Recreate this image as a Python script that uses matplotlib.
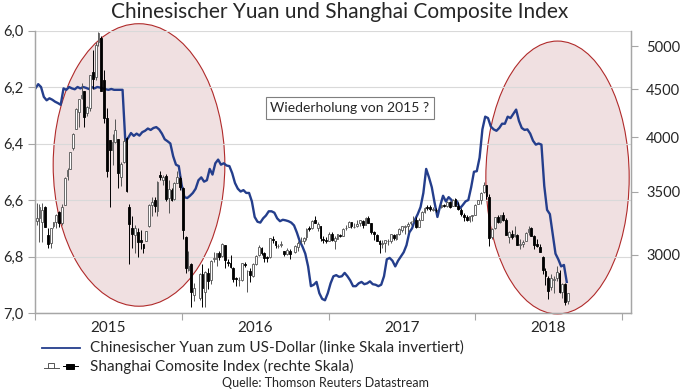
import matplotlib
matplotlib.use("Agg")
import matplotlib.pyplot as plt
import matplotlib.dates as mdates
from matplotlib.patches import Ellipse, Rectangle
from matplotlib.lines import Line2D
from matplotlib.ticker import FixedLocator, FuncFormatter, NullFormatter, NullLocator
import numpy as np
import pandas as pd

plt.rcParams["font.family"] = ["Lato", "DejaVu Sans"]

# USD/CNY, weekly closes (Fridays from 2015-01-02)
yuan = [
    6.205, 6.19, 6.20, 6.235, 6.247, 6.24, 6.245, 6.252, 6.257, 6.263,
    6.205, 6.21, 6.20, 6.205, 6.208, 6.20, 6.205, 6.20, 6.203, 6.207,
    6.20, 6.205, 6.20, 6.202, 6.205, 6.208, 6.21, 6.207, 6.21, 6.21,
    6.21, 6.21, 6.395, 6.38, 6.363, 6.373, 6.365, 6.372, 6.36, 6.355,
    6.347, 6.352, 6.345, 6.342, 6.35, 6.365, 6.385, 6.392, 6.40, 6.445,
    6.475, 6.48, 6.545, 6.59, 6.593, 6.585, 6.575, 6.56, 6.53, 6.52,
    6.535, 6.53, 6.49, 6.51, 6.47, 6.457, 6.475, 6.47, 6.478, 6.48,
    6.505, 6.54, 6.56, 6.57, 6.565, 6.575, 6.575, 6.605, 6.66, 6.677,
    6.68, 6.665, 6.655, 6.64, 6.64, 6.645, 6.665, 6.675, 6.67, 6.672,
    6.675, 6.68, 6.69, 6.715, 6.745, 6.765, 6.79, 6.835, 6.905, 6.90,
    6.89, 6.93, 6.95, 6.955, 6.93, 6.895, 6.87, 6.866, 6.872, 6.87,
    6.858, 6.87, 6.885, 6.905, 6.905, 6.895, 6.89, 6.898, 6.895, 6.888,
    6.898, 6.90, 6.905, 6.90, 6.87, 6.81, 6.805, 6.815, 6.835, 6.815,
    6.80, 6.785, 6.76, 6.715, 6.70, 6.67, 6.65, 6.625, 6.575, 6.49,
    6.52, 6.555, 6.61, 6.66, 6.62, 6.585, 6.605, 6.59, 6.60, 6.615,
    6.605, 6.63, 6.618, 6.605, 6.60, 6.555, 6.50, 6.498, 6.45, 6.35,
    6.305, 6.31, 6.34, 6.35, 6.355, 6.345, 6.33, 6.33, 6.305, 6.31,
    6.295, 6.28, 6.32, 6.345, 6.352, 6.35, 6.365, 6.39, 6.404, 6.40,
    6.404, 6.55, 6.635, 6.65, 6.72, 6.79, 6.81, 6.835, 6.83, 6.89,
]

# Shanghai Composite, weekly candles (Mondays from 2015-01-05), None = market closed
sse_open = [
    3258, 3285, 3250, 3370, 3148, 3084, 3215, 3247, 3332, 3240,
    3391, 3640, 3700, 3900, 4080, 4260, 4410, 4480, 4250, 4300,
    4700, 4640, 5050, 5100, 4600, 4200, 3975, 3880, 3960, 3985,
    3630, 3770, 3990, 3373, 3200, 3150, 3174, 3110, 3080, 3100,
    3220, 3390, 3430, 3340, 3650, 3600, 3640, 3450, 3520, 3440,
    3580, 3620,
    3536, 3130, 2890, 2930, 2720, None, 2700, 2860, 2740, 2870,
    2820, 2970, 2970, 3010, 2990, 3070, 2950, 2940, 2900, 2830,
    2820, 2820, 2935, 2880, 2880, 2850, 2930, 2995, 3050, 3010,
    2980, 2980, 3120, 3100, 3065, 3070, 3030, 3005, 3030, None,
    3020, 3060, 3100, 3100, 3130, 3200, 3200, 3270, 3200, 3220,
    3120, 3110,
    3105, 3160, 3100, 3120, 3150, 3140, 3200, 3210, 3250, 3210,
    3215, 3240, 3260, 3230, 3280, 3240, 3170, 3150, 3100, 3080,
    3090, 3100, 3100, 3150, 3120, 3160, 3190, 3210, 3220, 3240,
    3260, 3270, 3210, 3270, 3330, 3370, 3370, 3350, 3350, None,
    3370, 3390, 3380, 3410, 3380, 3440, 3380, 3350, 3310, 3290,
    3265, 3295,
    3310, 3400, 3430, 3500, 3560, 3460, 3130, 3200, 3290, 3250,
    3310, 3270, 3130, 3160, 3140, 3150, 3070, 3080, 3100, 3170,
    3200, 3140, 3080, 3060, 2980, 2880, 2830, 2770, 2820, 2830,
    2870, 2740, 2790, 2680,
]
sse_high = [
    3406, 3400, 3406, 3383, 3200, 3204, 3251, 3311, 3336, 3395,
    3632, 3715, 3864, 4040, 4300, 4398, 4572, 4488, 4322, 4658,
    4958, 5052, 5178, 5130, 4720, 4300, 3975, 4030, 4184, 3985,
    3770, 3994, 4006, 3400, 3300, 3223, 3200, 3190, 3080, 3183,
    3400, 3458, 3457, 3596, 3684, 3650, 3654, 3600, 3537, 3590,
    3684, 3635,
    3539, 3140, 3030, 2940, 2800, None, 2870, 2933, 2880, 2900,
    2960, 3018, 3010, 3030, 3090, 3075, 2970, 3000, 2910, 2840,
    2840, 2940, 2945, 2890, 2900, 2937, 3000, 3070, 3060, 3020,
    2990, 3125, 3140, 3100, 3080, 3100, 3030, 3050, 3040, None,
    3070, 3100, 3130, 3130, 3200, 3220, 3270, 3301, 3250, 3220,
    3140, 3130,
    3172, 3175, 3140, 3160, 3157, 3200, 3230, 3260, 3250, 3240,
    3270, 3270, 3270, 3290, 3295, 3245, 3180, 3160, 3110, 3110,
    3100, 3120, 3160, 3160, 3160, 3200, 3220, 3230, 3250, 3260,
    3300, 3290, 3280, 3340, 3370, 3390, 3390, 3370, 3360, None,
    3400, 3400, 3420, 3420, 3440, 3450, 3410, 3360, 3320, 3310,
    3300, 3310,
    3395, 3430, 3500, 3587, 3560, 3480, 3200, 3290, 3310, 3310,
    3330, 3280, 3180, 3190, 3220, 3160, 3120, 3110, 3170, 3220,
    3210, 3150, 3120, 3080, 2990, 2900, 2850, 2860, 2850, 2915,
    2890, 2800, 2800, 2730,
]
sse_low = [
    3230, 3095, 3096, 3210, 3049, 3049, 3200, 3202, 3207, 3230,
    3391, 3600, 3700, 3880, 4079, 4100, 4400, 4099, 4220, 4270,
    4500, 4600, 5000, 4480, 4140, 3630, 3373, 3740, 3950, 3537,
    3550, 3760, 3500, 2930, 3053, 3011, 2983, 3040, 3012, 3100,
    3210, 3300, 3330, 3300, 3600, 3560, 3420, 3327, 3420, 3430,
    3580, 3520,
    3115, 2867, 2880, 2638, 2680, None, 2682, 2638, 2638, 2760,
    2790, 2950, 2920, 2960, 2985, 2900, 2920, 2900, 2805, 2780,
    2780, 2810, 2910, 2736, 2807, 2840, 2925, 2990, 3000, 2946,
    2950, 2975, 3090, 3050, 3050, 3060, 2990, 3000, 2970, None,
    3010, 3030, 3090, 3080, 3110, 3180, 3195, 3240, 3180, 3100,
    3090, 3090,
    3100, 3100, 3044, 3120, 3130, 3140, 3190, 3210, 3200, 3200,
    3210, 3220, 3200, 3230, 3240, 3160, 3110, 3100, 3016, 3050,
    3023, 3070, 3090, 3110, 3110, 3150, 3170, 3160, 3170, 3230,
    3250, 3200, 3210, 3270, 3320, 3350, 3340, 3340, 3330, None,
    3360, 3370, 3370, 3360, 3380, 3380, 3350, 3300, 3260, 3260,
    3250, 3260,
    3310, 3400, 3400, 3490, 3440, 3062, 3120, 3195, 3240, 3240,
    3260, 3150, 3090, 3120, 3130, 3070, 3040, 3060, 3100, 3150,
    3140, 3040, 3060, 3020, 2860, 2782, 2691, 2750, 2730, 2810,
    2730, 2700, 2653, 2660,
]
sse_close = [
    3285, 3376, 3351, 3210, 3076, 3203, 3247, 3310, 3241, 3372,
    3617, 3691, 3863, 4034, 4287, 4393, 4441, 4205, 4308, 4657,
    4611, 5023, 5166, 4478, 4192, 3686, 3877, 3957, 4070, 3663,
    3744, 3965, 3507, 3232, 3160, 3200, 3097, 3092, 3053, 3183,
    3391, 3412, 3382, 3590, 3632, 3630, 3436, 3524, 3434, 3578,
    3627, 3539,
    3186, 2901, 2916, 2737, 2763, None, 2860, 2767, 2874, 2810,
    2955, 2979, 3009, 2985, 3078, 2959, 2938, 2913, 2828, 2826,
    2822, 2938, 2927, 2885, 2854, 2932, 2989, 3054, 3012, 2979,
    2976, 3125, 3108, 3070, 3067, 3078, 3002, 3033, 3004, None,
    3063, 3090, 3104, 3125, 3196, 3192, 3262, 3243, 3232, 3122,
    3110, 3104,
    3154, 3112, 3123, 3159, 3140, 3196, 3202, 3253, 3218, 3212,
    3237, 3269, 3223, 3286, 3246, 3173, 3155, 3103, 3083, 3090,
    3107, 3105, 3158, 3123, 3157, 3192, 3217, 3222, 3237, 3253,
    3262, 3208, 3268, 3331, 3367, 3365, 3353, 3352, 3349, None,
    3390, 3378, 3416, 3372, 3432, 3382, 3353, 3317, 3289, 3266,
    3297, 3307,
    3391, 3428, 3488, 3558, 3462, 3129, 3199, 3289, 3254, 3307,
    3269, 3152, 3169, 3131, 3159, 3071, 3082, 3091, 3163, 3193,
    3141, 3075, 3067, 3022, 2890, 2847, 2747, 2831, 2829, 2873,
    2740, 2795, 2669, 2730,
]

left_ticks = [6.0, 6.2, 6.4, 6.6, 6.8, 7.0]
right_ticks = [3000, 3500, 4000, 4500, 5000]
years = [2015, 2016, 2017, 2018]

yuan_dates = pd.date_range("2015-01-02", periods=len(yuan), freq="W-FRI")
sse_dates = pd.date_range("2015-01-05", periods=len(sse_close), freq="W-MON")
o = np.array(sse_open, dtype=float)
h = np.array(sse_high, dtype=float)
l = np.array(sse_low, dtype=float)
c = np.array(sse_close, dtype=float)

W, H = 681, 391
fig = plt.figure(figsize=(W / 100, H / 100), dpi=100)
ax = fig.add_axes([35 / W, 1 - 313 / H, 596 / W, 282.5 / H])
ax2 = ax.twinx()

grey = "#a6a6a6"
txt = "#262626"

# highlighted periods
for cx, cy, ew, eh in [(0.1745, 0.524, 0.288, 1.0), (0.8767, 0.4796, 0.2405, 0.966)]:
    ax.add_patch(Ellipse((cx, cy), ew, eh, transform=ax.transAxes,
                         facecolor="#f0e0e1", edgecolor="#b02a2a", lw=0.8,
                         zorder=0.3, clip_on=False))

ax.plot(yuan_dates, yuan, color="#243e8c", lw=1.7, zorder=3)
ax.set_ylim(7.0, 6.0)
ax.set_yticks(left_ticks)
ax.yaxis.set_major_formatter(FuncFormatter(lambda v, p: f"{v:.1f}".replace(".", ",")))
ax.grid(axis="y", color="#d9d9d9", lw=0.8, zorder=0.5)
ax.set_axisbelow(True)

# candlesticks
up = c >= o
body_w = 4.5
ax2.vlines(sse_dates[up], l[up], h[up], color="#555555", lw=0.7, zorder=3)
ax2.vlines(sse_dates[~up], l[~up], h[~up], color="black", lw=0.7, zorder=3)
ax2.bar(sse_dates[up], c[up] - o[up], bottom=o[up], width=body_w,
        facecolor="white", edgecolor="#555555", lw=0.6, zorder=4)
ax2.bar(sse_dates[~up], o[~up] - c[~up], bottom=c[~up], width=body_w,
        facecolor="black", edgecolor="black", lw=0.6, zorder=4)
ax2.set_yscale("log")
ax2.set_ylim(2600, 5200)
ax2.yaxis.set_major_locator(FixedLocator(right_ticks))
ax2.yaxis.set_minor_locator(NullLocator())
ax2.yaxis.set_major_formatter(FuncFormatter(lambda v, p: f"{v:.0f}"))

x0, x1 = pd.Timestamp("2015-01-01"), pd.Timestamp("2019-01-24")
ax.set_xlim(x0, x1)
ax.xaxis.set_major_locator(FixedLocator([mdates.date2num(pd.Timestamp(f"{y}-01-01")) for y in years + [2019]]))
ax.xaxis.set_major_formatter(NullFormatter())
ax.xaxis.set_minor_locator(FixedLocator([mdates.date2num(pd.Timestamp(f"{y}-07-02")) for y in years]))
ax.xaxis.set_minor_formatter(FuncFormatter(lambda v, p: str(mdates.num2date(v).year)))
ax.tick_params(axis="x", which="minor", length=0, labelsize=11, pad=6, labelcolor=txt)
ax.tick_params(axis="x", which="major", length=5, color=grey, direction="out")
ax.tick_params(axis="y", length=5, color=grey, labelsize=10.5, labelcolor=txt, pad=3)
ax2.tick_params(axis="y", length=5, color=grey, labelsize=10.5, labelcolor=txt, pad=6)

for a in (ax, ax2):
    a.spines["top"].set_visible(False)
    for s in ("left", "right", "bottom"):
        a.spines[s].set_color(grey)
        a.spines[s].set_linewidth(0.9)

fig.text(340 / W, 1 - 12 / H, "Chinesischer Yuan und Shanghai Composite Index",
         ha="center", va="center", fontsize=15, color=txt)

fig.text(350 / W, 1 - 108 / H, "Wiederholung von 2015 ?", ha="center", va="center",
         fontsize=10, color=txt, zorder=6,
         bbox=dict(boxstyle="square,pad=0.35", facecolor="white", edgecolor="#7f7f7f", lw=0.8))

# legend
fig.add_artist(Line2D([42 / W, 80 / W], [1 - 348 / H] * 2, color="#243e8c", lw=1.3))
fig.text(90 / W, 1 - 348 / H, "Chinesischer Yuan zum US-Dollar (linke Skala invertiert)",
         ha="left", va="center", fontsize=11, color=txt)
yl = 1 - 366 / H
fig.add_artist(Line2D([44 / W, 59 / W], [yl - 2 / H] * 2, color="#555555", lw=0.7))
fig.add_artist(Rectangle((48 / W, yl - 2 / H), 6 / W, 5 / H, transform=fig.transFigure,
                         facecolor="white", edgecolor="#555555", lw=0.7))
fig.add_artist(Line2D([63 / W, 78 / W], [yl] * 2, color="black", lw=0.7))
fig.add_artist(Rectangle((66 / W, yl - 2.5 / H), 8 / W, 5 / H, transform=fig.transFigure,
                         facecolor="black", edgecolor="black", lw=0.7))
fig.text(90 / W, yl, "Shanghai Comosite Index (rechte Skala)",
         ha="left", va="center", fontsize=11, color=txt)

fig.text(325 / W, 1 - 383 / H, "Quelle: Thomson Reuters Datastream",
         ha="center", va="center", fontsize=9, color=txt)

fig.savefig("out.png", dpi=100)
